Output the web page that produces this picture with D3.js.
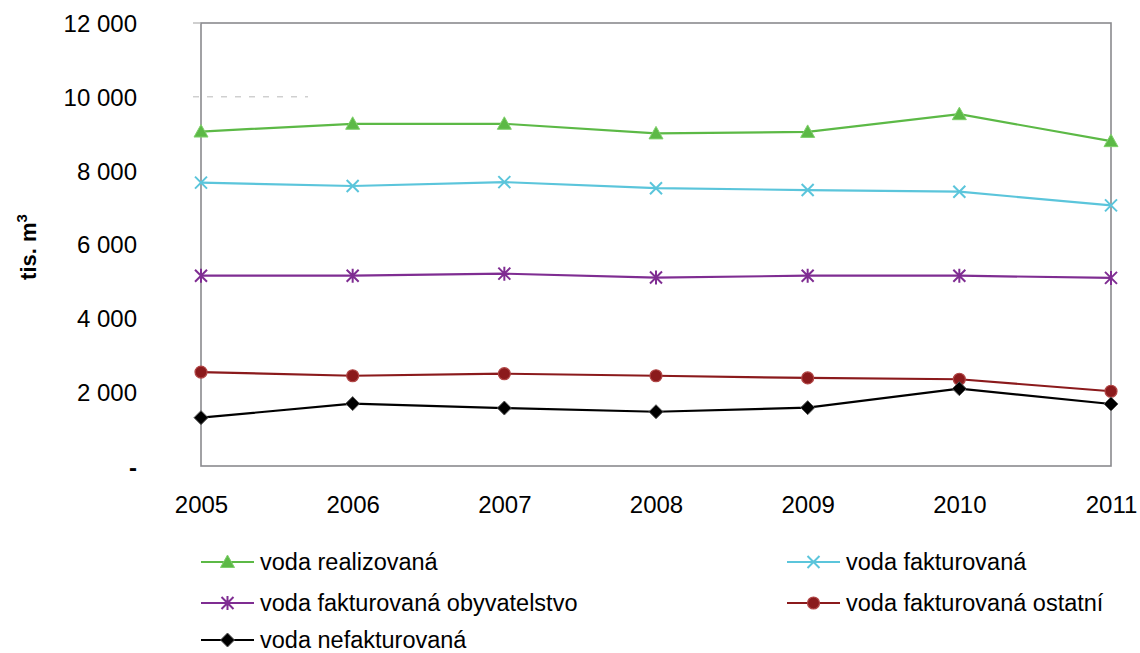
<!DOCTYPE html>
<html><head><meta charset="utf-8">
<script src="https://cdn.jsdelivr.net/npm/d3@7"></script>
<style>
html,body{margin:0;padding:0;background:#fff;}
svg{display:block;font-family:"Liberation Sans",Arial,Helvetica,sans-serif;}
</style></head>
<body><svg id="c" width="1140" height="653"></svg>
<script>
const years = ["2005","2006","2007","2008","2009","2010","2011"];
const vodaRealizovana = [9060, 9270, 9270, 9010, 9050, 9530, 8800];
const vodaFakturovana = [7675, 7585, 7690, 7525, 7475, 7430, 7060];
const vodaFakturovanaObyvatelstvo = [5155, 5155, 5210, 5105, 5155, 5155, 5095];
const vodaFakturovanaOstatni = [2545, 2445, 2500, 2445, 2385, 2350, 2025];
const vodaNefakturovana = [1310, 1690, 1570, 1470, 1580, 2095, 1680];
const yTicks = [0, 2000, 4000, 6000, 8000, 10000, 12000];

const seriesNames = ["voda realizovaná","voda fakturovaná","voda fakturovaná obyvatelstvo","voda fakturovaná ostatní","voda nefakturovaná"];
const seriesValues = [vodaRealizovana, vodaFakturovana, vodaFakturovanaObyvatelstvo, vodaFakturovanaOstatni, vodaNefakturovana];
const colors = ["#5cb946","#5bc5db","#7f2d92","#8b1a1c","#000000"];
const markers = ["triangle","x","asterisk","circle","diamond"];

const svg = d3.select("#c");
const L=201, R=1111, T=23, B=466;
const x = d3.scalePoint().domain(years).range([L,R]);
const y = d3.scaleLinear().domain([0,12000]).range([B,T]);

// frame
const g = svg.append("g");
g.append("rect").attr("x",L).attr("y",T).attr("width",R-L).attr("height",B-T)
 .attr("fill","none").attr("stroke","#8a8a8e").attr("stroke-width",1.6);
// small artifacts: top tick and partial dashed grid
g.append("line").attr("x1",193).attr("x2",L).attr("y1",y(12000)).attr("y2",y(12000))
 .attr("stroke","#b0b0b0").attr("stroke-width",1.2);
g.append("line").attr("x1",193).attr("x2",308).attr("y1",y(10000)).attr("y2",y(10000))
 .attr("stroke","#b8b8b8").attr("stroke-width",1).attr("stroke-dasharray","6,8");

// y axis labels
const fmt = v => v===0 ? "-" : d3.format(",")(v).replace(/,/g," ");
const yAxis = d3.axisLeft(y).tickValues(yTicks).tickFormat(fmt).tickSize(0).tickPadding(0);
const ya = svg.append("g").attr("transform","translate(137,0)").call(yAxis);
ya.select(".domain").remove();
ya.selectAll("text").attr("font-size",24).attr("fill","#000")
  .attr("font-family","'Liberation Sans',Arial,sans-serif").attr("dy","0.35em");
ya.selectAll(".tick").filter(d=>d===0).select("text").attr("font-weight","bold").attr("dy","0.4em");

// x axis labels
const xAxis = d3.axisBottom(x).tickSize(0).tickPadding(0);
const xa = svg.append("g").attr("transform","translate(0,496)").call(xAxis);
xa.select(".domain").remove();
xa.selectAll("text").attr("font-size",24).attr("fill","#000")
  .attr("font-family","'Liberation Sans',Arial,sans-serif").attr("dy","0.71em");

// y title
const yt = svg.append("text").attr("transform","translate(36,247) rotate(-90)")
  .attr("text-anchor","middle").attr("font-size",22).attr("font-weight","bold").attr("fill","#000");
yt.append("tspan").text("tis. m");
yt.append("tspan").attr("dy",-9).attr("font-size",15).text("3");

function drawMarker(sel, type, color){
  if(type==="triangle"){
    sel.append("path").attr("d","M0,-7L7,5.5L-7,5.5Z").attr("fill",color).attr("stroke","#7fd06b").attr("stroke-width",1);
  } else if(type==="x"){
    sel.append("path").attr("d","M-6,-6L6,6M-6,6L6,-6").attr("stroke",color).attr("stroke-width",2).attr("fill","none");
  } else if(type==="asterisk"){
    sel.append("path").attr("d","M-6,-6L6,6M-6,6L6,-6M0,-7L0,7").attr("stroke",color).attr("stroke-width",2).attr("fill","none");
  } else if(type==="circle"){
    sel.append("circle").attr("r",6).attr("fill",color).attr("stroke","#b04545").attr("stroke-width",1.2);
  } else if(type==="diamond"){
    sel.append("path").attr("d","M0,-7L7,0L0,7L-7,0Z").attr("fill",color).attr("stroke","#555").attr("stroke-width",1);
  }
}

const line = d3.line().x((d,i)=>x(years[i])).y(d=>y(d));
seriesValues.forEach((vals,si)=>{
  svg.append("path").datum(vals).attr("d",line).attr("fill","none")
    .attr("stroke",colors[si]).attr("stroke-width",2.2);
  vals.forEach((v,i)=>{
    const m = svg.append("g").attr("transform",`translate(${x(years[i])},${y(v)})`);
    drawMarker(m, markers[si], colors[si]);
  });
});

// legend
const legendPos = [[201,562],[787,562],[201,603],[787,603],[201,640]];
seriesNames.forEach((name,si)=>{
  const [lx,ly] = legendPos[si];
  const lg = svg.append("g").attr("transform",`translate(${lx},${ly})`);
  lg.append("line").attr("x1",0).attr("x2",53).attr("y1",0).attr("y2",0)
    .attr("stroke",colors[si]).attr("stroke-width",2.2);
  const m = lg.append("g").attr("transform","translate(26.5,0)");
  drawMarker(m, markers[si], colors[si]);
  lg.append("text").attr("x",59).attr("y",0).attr("dy","0.35em")
    .attr("font-size",23.5).attr("fill","#000").text(name);
});
</script></body></html>
